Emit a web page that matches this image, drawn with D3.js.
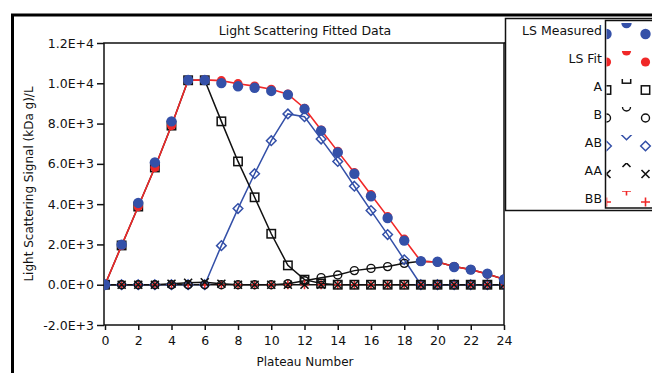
<!DOCTYPE html>
<html><head><meta charset="utf-8">
<script src="https://cdn.jsdelivr.net/npm/d3@7/dist/d3.min.js"></script>
<style>
body{margin:0;background:#fff}
svg{display:block;font-family:"DejaVu Sans",sans-serif}
</style>
</head><body>
<svg id="c" width="652" height="373"></svg>
<script>
// ---- data ----
const plateau = [0,1,2,3,4,5,6,7,8,9,10,11,12,13,14,15,16,17,18,19,20,21,22,23,24];
const lsMeasured = [0,1990,4060,6070,8110,10160,10160,10010,9850,9780,9620,9430,8720,7650,6570,5510,4390,3310,2190,1170,1140,880,750,550,260];
const lsFit      = [0,1950,3880,5820,7900,10150,10170,10130,9980,9860,9700,9460,8760,7680,6620,5560,4470,3380,2260,1160,1130,900,750,530,270];
const compA      = [0,1950,3880,5820,7900,10150,10150,8110,6120,4340,2530,960,250,60,0,0,0,0,0,0,0,0,0,0,0];
const compB      = [0,0,0,0,0,0,0,0,0,0,0,50,200,350,480,700,810,900,1060,1160,1130,900,750,530,270];
const compAB     = [0,0,0,0,0,0,0,1940,3780,5510,7150,8480,8340,7230,6120,4890,3680,2490,1240,0,0,0,0,0,0];
const compAA     = [0,0,0,0,50,100,120,50,0,0,0,0,0,0,0,0,0,0,0,0,0,0,0,0,0];
const compBB     = [0,0,0,0,0,0,0,0,0,0,0,0,0,0,0,0,0,0,0,0,0,0,0,0,0];
const xTicks = [0,2,4,6,8,10,12,14,16,18,20,22,24];
const yTicks = [-2000,0,2000,4000,6000,8000,10000,12000];
const yTickLabels = ["-2.0E+3","0.0E+0","2.0E+3","4.0E+3","6.0E+3","8.0E+3","1.0E+4","1.2E+4"];
const legendNames = ["LS Measured","LS Fit","A","B","AB","AA","BB"];
const titleText = "Light Scattering Fitted Data";
const xTitle = "Plateau Number";
const yTitle = "Light Scattering Signal (kDa g)/L";

const BLUE = "#3450a8", RED = "#f02828", BLACK = "#111";

const svg = d3.select("#c");
const x = d3.scaleLinear().domain([0,24]).range([105,504]);
const y = d3.scaleLinear().domain([-2000,12000]).range([325,43]);

// outer frame
svg.append("path").attr("d","M12.5,373 V15 H652").attr("fill","none").attr("stroke","#000").attr("stroke-width",3);

// title
svg.append("text").attr("x",305).attr("y",35).attr("text-anchor","middle")
  .attr("font-size",12.5).attr("fill","#111").text(titleText);

// clip
svg.append("defs").append("clipPath").attr("id","plotclip").append("rect")
  .attr("x",104).attr("y",43).attr("width",400).attr("height",282);

// axes
const yAxis = svg.append("g").attr("transform","translate(104,0)")
  .call(d3.axisLeft(y).tickValues(yTicks).tickSize(7).tickPadding(3)
    .tickFormat((d,i)=>yTickLabels[i]));
yAxis.select(".domain").remove();
yAxis.selectAll("text").attr("font-size",12.5).attr("font-family","DejaVu Sans").attr("fill","#111");
yAxis.selectAll("line").attr("stroke","#111").attr("stroke-width",1.5);

const xAxis = svg.append("g").attr("transform","translate(0,325)")
  .call(d3.axisBottom(x).tickValues(xTicks).tickSize(5).tickPadding(6).tickFormat(d3.format("d")));
xAxis.select(".domain").remove();
xAxis.selectAll("text").attr("font-size",12.5).attr("font-family","DejaVu Sans").attr("fill","#111");
xAxis.selectAll("line").attr("stroke","#111").attr("stroke-width",1.5);

// plot frame
svg.append("rect").attr("x",104).attr("y",43).attr("width",400).attr("height",282)
  .attr("fill","none").attr("stroke","#111").attr("stroke-width",1.5);
svg.append("line").attr("x1",504).attr("x2",506).attr("y1",43).attr("y2",43).attr("stroke","#111").attr("stroke-width",1.5);

// axis titles
svg.append("text").attr("x",305).attr("y",366).attr("text-anchor","middle")
  .attr("font-size",12).attr("fill","#111").text(xTitle);
svg.append("text").attr("transform","translate(33,184) rotate(-90)").attr("text-anchor","middle")
  .attr("font-size",12).attr("fill","#111").text(yTitle);

// marker drawers
function marker(g, type, cx, cy){
  if(type==="dotM") g.append("circle").attr("cx",cx).attr("cy",cy).attr("r",5.2).attr("fill",BLUE);
  else if(type==="dotF") g.append("circle").attr("cx",cx).attr("cy",cy).attr("r",4.6).attr("fill",RED);
  else if(type==="sq") g.append("rect").attr("x",cx-4.2).attr("y",cy-4.2).attr("width",8.4).attr("height",8.4)
      .attr("fill","none").attr("stroke",BLACK).attr("stroke-width",1.5);
  else if(type==="ci") g.append("circle").attr("cx",cx).attr("cy",cy).attr("r",4)
      .attr("fill","none").attr("stroke",BLACK).attr("stroke-width",1.4);
  else if(type==="di") g.append("path").attr("d",`M${cx},${cy-4.8}L${cx+4.8},${cy}L${cx},${cy+4.8}L${cx-4.8},${cy}Z`)
      .attr("fill","none").attr("stroke",BLUE).attr("stroke-width",1.5);
  else if(type==="x") g.append("path").attr("d",`M${cx-4},${cy-4}L${cx+4},${cy+4}M${cx-4},${cy+4}L${cx+4},${cy-4}`)
      .attr("fill","none").attr("stroke",BLACK).attr("stroke-width",1.6);
  else if(type==="pl") g.append("path").attr("d",`M${cx-4.5},${cy}H${cx+4.5}M${cx},${cy-4.5}V${cx+0}`.replace(`V${cx+0}`,`V${cy+4.5}`))
      .attr("fill","none").attr("stroke",RED).attr("stroke-width",1.6);
}

const plot = svg.append("g").attr("clip-path","url(#plotclip)");
const line = d3.line().x((d,i)=>x(plateau[i])).y(d=>y(d));

const series = [
  {vals:compBB, color:RED, m:"pl", line:false},
  {vals:compAB, color:BLUE, m:"di", line:true},
  {vals:compAA, color:BLACK, m:"x", line:true},
  {vals:compB, color:BLACK, m:"ci", line:true},
  {vals:compA, color:BLACK, m:"sq", line:true},
];
series.forEach(s=>{
  if(s.line) plot.append("path").datum(s.vals).attr("d",line).attr("fill","none")
    .attr("stroke",s.color).attr("stroke-width",1.5);
});
series.forEach(s=>{
  const g = plot.append("g");
  s.vals.forEach((v,i)=>marker(g,s.m,x(plateau[i]),y(v)));
});
plot.append("path").datum(lsFit).attr("d",line).attr("fill","none").attr("stroke",RED).attr("stroke-width",1.6);
const gF = plot.append("g"); lsFit.forEach((v,i)=>marker(gF,"dotF",x(plateau[i]),y(v)));
const gM = plot.append("g"); lsMeasured.forEach((v,i)=>marker(gM,"dotM",x(plateau[i]),y(v)));

// legend
const lg = svg.append("g");
lg.append("rect").attr("x",505.5).attr("y",18.5).attr("width",160).attr("height",192)
  .attr("fill","#fff").attr("stroke","#111").attr("stroke-width",1.5);
lg.append("rect").attr("x",605.5).attr("y",20.5).attr("width",60).attr("height",187.5)
  .attr("fill","#fff").attr("stroke","#111").attr("stroke-width",1.5);
const legTypes = ["dotM","dotF","sq","ci","di","x","pl"];
legendNames.forEach((n,i)=>{
  const ty = 31 + i*28;
  lg.append("text").attr("x",602).attr("y",ty).attr("dy","0.35em").attr("text-anchor","end")
    .attr("font-size",12.5).attr("fill","#111").text(n);
  const cid = "lc"+i;
  const topY = ty - 8;
  svg.select("defs").append("clipPath").attr("id",cid).append("rect")
    .attr("x",606.5).attr("y",Math.max(topY,21.5)).attr("width",50).attr("height",26);
  const mg = lg.append("g").attr("clip-path",`url(#${cid})`);
  marker(mg, legTypes[i], 606.5, ty+3);
  marker(mg, legTypes[i], 626.5, topY);
  marker(mg, legTypes[i], 645.5, ty+3);
});
</script>
</body></html>
